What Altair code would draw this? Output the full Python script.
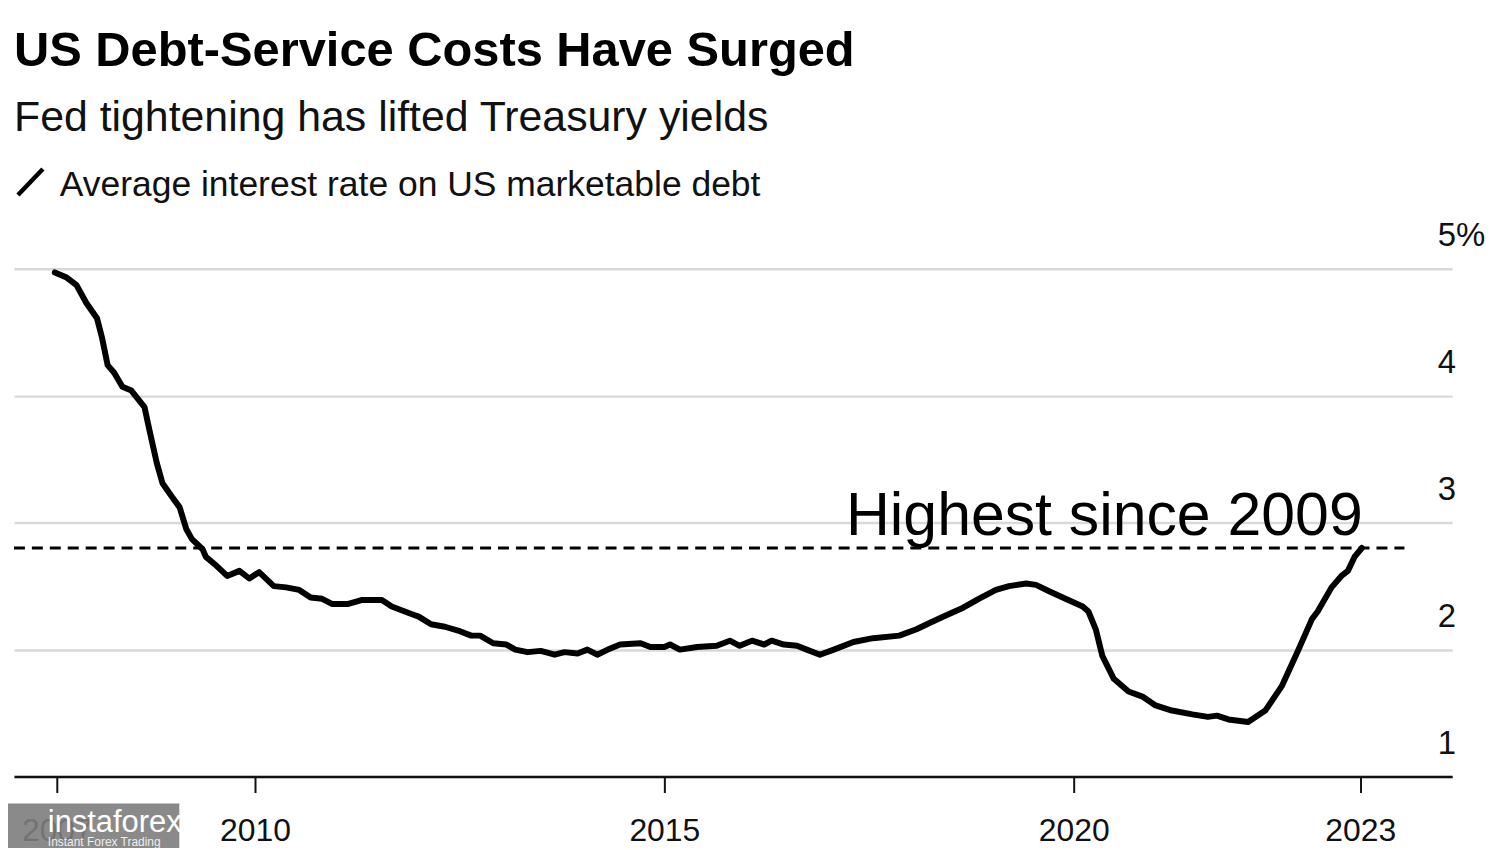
import altair as alt
import pandas as pd

# ---- data (decimal year, average interest rate %) ----
years = [2007.555, 2007.70, 2007.82, 2007.94, 2008.07, 2008.13, 2008.20, 2008.28, 2008.38, 2008.49,
         2008.65, 2008.71, 2008.80, 2008.87, 2008.99, 2009.08, 2009.16, 2009.23, 2009.36, 2009.40,
         2009.53, 2009.66, 2009.81, 2009.93, 2010.05, 2010.23, 2010.38, 2010.54, 2010.68, 2010.82,
         2010.94, 2011.14, 2011.30, 2011.55, 2011.67, 2011.91, 2012.00, 2012.15, 2012.32, 2012.48,
         2012.64, 2012.75, 2012.91, 2013.07, 2013.18, 2013.33, 2013.49, 2013.66, 2013.78, 2013.94,
         2014.06, 2014.18, 2014.31, 2014.46, 2014.71, 2014.83, 2015.00, 2015.07, 2015.19, 2015.40,
         2015.64, 2015.80, 2015.92, 2016.07, 2016.22, 2016.31, 2016.46, 2016.62, 2016.74, 2016.90,
         2017.07, 2017.31, 2017.55, 2017.87, 2018.08, 2018.24, 2018.41, 2018.65, 2018.84, 2019.05,
         2019.21, 2019.42, 2019.54, 2019.70, 2019.90, 2020.11, 2020.18, 2020.27, 2020.35, 2020.49,
         2020.67, 2020.84, 2021.00, 2021.20, 2021.45, 2021.64, 2021.75, 2021.89, 2022.13, 2022.34,
         2022.54, 2022.74, 2022.91, 2022.98, 2023.15, 2023.27, 2023.35, 2023.43, 2023.52]
rates = [4.97, 4.93, 4.87, 4.73, 4.61, 4.46, 4.24, 4.18, 4.07, 4.04,
         3.91, 3.73, 3.47, 3.31, 3.20, 3.12, 2.95, 2.87, 2.79, 2.73,
         2.66, 2.58, 2.62, 2.56, 2.61, 2.50, 2.49, 2.47, 2.41, 2.40,
         2.36, 2.36, 2.39, 2.39, 2.34, 2.28, 2.26, 2.20, 2.18, 2.15,
         2.11, 2.11, 2.05, 2.04, 2.00, 1.98, 1.99, 1.96, 1.98, 1.97,
         2.00, 1.96, 2.00, 2.04, 2.05, 2.02, 2.02, 2.04, 2.00, 2.02,
         2.03, 2.07, 2.03, 2.07, 2.04, 2.07, 2.04, 2.03, 2.00, 1.96,
         2.00, 2.06, 2.09, 2.11, 2.16, 2.21, 2.26, 2.33, 2.40, 2.47,
         2.50, 2.52, 2.51, 2.46, 2.40, 2.34, 2.30, 2.16, 1.95, 1.77,
         1.67, 1.63, 1.56, 1.52, 1.49, 1.47, 1.48, 1.45, 1.43, 1.52,
         1.71, 1.99, 2.24, 2.30, 2.49, 2.58, 2.62, 2.73, 2.80]

x_ticks = [2007.58, 2010, 2015, 2020, 2023.5]
y_ticks = [1, 2, 3, 4, 5]
ref_level = [2.8]
ref_span = [2007.056, 2024.04]
note_text = ["Highest since 2009"]
note_pos = [2023.53, 2.906]

title = "US Debt-Service Costs Have Surged"
subtitle = "Fed tightening has lifted Treasury yields"
legend_label = "Average interest rate on US marketable debt"

FONT = "Liberation Sans"
X_DOMAIN = [2007.056, 2024.623]

df = pd.DataFrame({"year": years, "rate": rates})
df_ref = pd.DataFrame({"x0": [ref_span[0]], "x1": [ref_span[1]], "v": ref_level})
df_note = pd.DataFrame({"x": [note_pos[0]], "y": [note_pos[1]], "t": note_text})

xscale = alt.Scale(domain=X_DOMAIN, nice=False, zero=False)
yscale = alt.Scale(domain=[1, 5], nice=False, zero=False)

x_axis = alt.Axis(
    values=x_ticks, title=None, grid=False,
    labelExpr="datum.value < 2008 ? '2007' : (datum.value > 2023 ? '2023' : format(datum.value, 'd'))",
    labelFont=FONT, labelFontSize=32, labelColor="#111111",
    labelBaseline="alphabetic", labelPadding=48, labelFlush=False, labelOverlap=False,
    domainColor="#111111", domainWidth=2.5,
    tickColor="#111111", tickWidth=2, tickSize=16,
)
y_axis = alt.Axis(
    values=y_ticks, orient="right", title=None,
    labelExpr="datum.value == 5 ? '5%' : format(datum.value, 'd')",
    labelFont=FONT, labelFontSize=33, labelColor="#111111",
    labelAlign="left", labelBaseline="alphabetic", labelPadding=-15, labelOffset=-23,
    labelFlush=False, labelOverlap=False,
    domain=False, ticks=False, tickSize=0,
    grid=True, gridColor="#d9d9d9", gridWidth=2.5,
)

line = alt.Chart(df).mark_line(color="#000000", strokeWidth=6, strokeJoin="round", strokeCap="round").encode(
    x=alt.X("year:Q", scale=xscale, axis=x_axis),
    y=alt.Y("rate:Q", scale=yscale, axis=y_axis),
)

ref = alt.Chart(df_ref).mark_rule(color="#000000", strokeWidth=3, strokeDash=[11, 7]).encode(
    x=alt.X("x0:Q", scale=xscale),
    x2="x1:Q",
    y=alt.Y("v:Q", scale=yscale),
)

note = alt.Chart(df_note).mark_text(
    font=FONT, fontSize=61, align="right", baseline="alphabetic", color="#000000"
).encode(
    x=alt.X("x:Q", scale=xscale),
    y=alt.Y("y:Q", scale=yscale),
    text="t:N",
)

def label(txt, x, y, size, weight="normal", color="#111111"):
    return alt.Chart(pd.DataFrame({"t": [txt]})).mark_text(
        font=FONT, fontSize=size, fontWeight=weight, align="left", baseline="alphabetic", color=color
    ).encode(x=alt.value(x), y=alt.value(y), text="t:N")

t_title = label(title, 0, -203, 49, "bold", "#000000")
t_sub = label(subtitle, 0, -138, 43)
t_leg = label(legend_label, 46, -73, 35.6)
slash = alt.Chart(pd.DataFrame({"k": [0]})).mark_rule(color="#000000", strokeWidth=4.5).encode(
    x=alt.value(4), x2=alt.value(29), y=alt.value(-74), y2=alt.value(-100)
)

# watermark overlay seen in the picture
wm_rect = alt.Chart(pd.DataFrame({"k": [0]})).mark_rect(color="#7d7d7d", opacity=0.9).encode(
    x=alt.value(-14), x2=alt.value(166), y=alt.value(537), y2=alt.value(582)
)
wm_main = label("instaforex", 34, 566, 31, "normal", "#ffffff")
wm_sub = label("Instant Forex Trading", 34, 580, 12, "normal", "#eeeeee")

chart = alt.layer(line, ref, note, t_title, t_sub, t_leg, slash, wm_rect, wm_main, wm_sub).properties(
    width=1444, height=510,
    padding={"left": 6, "top": 260, "right": 40, "bottom": 70},
    autosize=alt.AutoSizeParams(type="none"),
    background="#ffffff",
).configure_view(stroke=None)

chart.save("out.html", embed_options={"renderer": "svg", "actions": False})
